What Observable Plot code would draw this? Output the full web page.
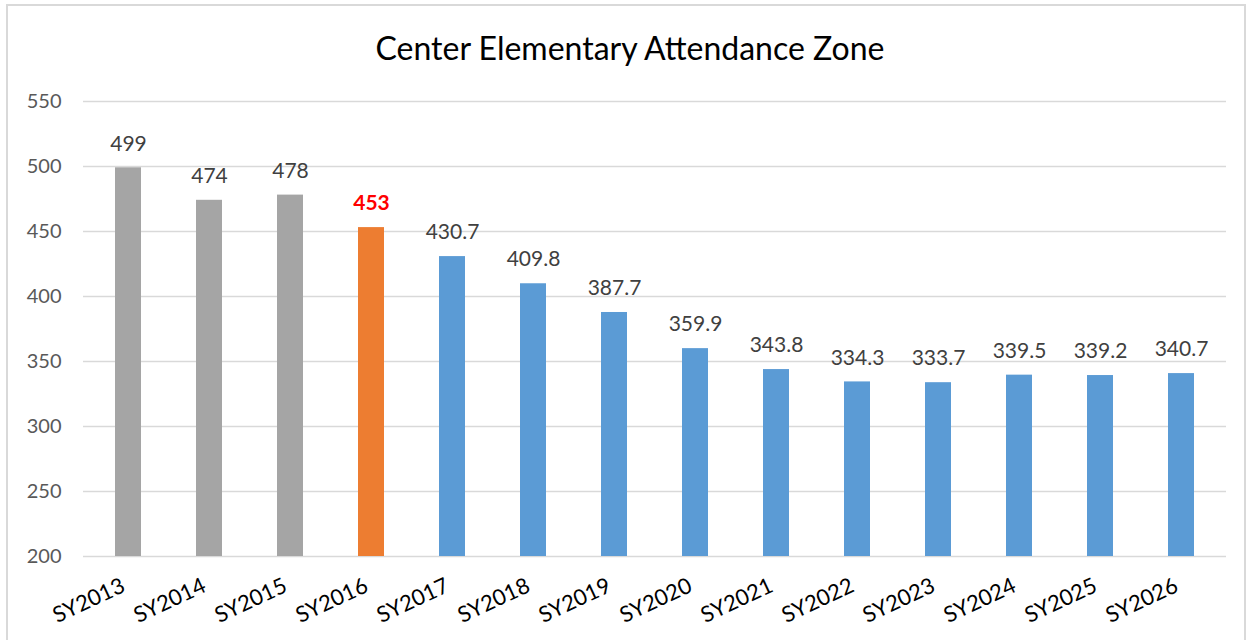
<!DOCTYPE html>
<html><head><meta charset="utf-8">
<script src="https://cdn.jsdelivr.net/npm/d3@7"></script>
<script src="https://cdn.jsdelivr.net/npm/@observablehq/plot@0.6"></script>
<style>
body{margin:0;background:#fff;font-family:Lato,"Open Sans",sans-serif;}
#wrap{position:relative;width:1252px;height:640px;overflow:hidden;}
#frame{position:absolute;left:6px;top:4px;width:1240px;height:660px;border:2px solid #d9d9d9;box-sizing:border-box;pointer-events:none;}
#title{height:80px;line-height:96px;text-align:center;font-size:32px;color:#000;padding-left:8px;}
</style></head>
<body><div id="wrap"><div id="frame"></div><div id="title">Center Elementary Attendance Zone</div><div id="chart"></div></div>
<script>
const years = ["SY2013","SY2014","SY2015","SY2016","SY2017","SY2018","SY2019","SY2020","SY2021","SY2022","SY2023","SY2024","SY2025","SY2026"];
const values = [499,474,478,453,430.7,409.8,387.7,359.9,343.8,334.3,333.7,339.5,339.2,340.7];
const kinds = ["actual","actual","actual","current","projected","projected","projected","projected","projected","projected","projected","projected","projected","projected"];
const yTicks = [200,250,300,350,400,450,500,550];

const data = years.map((y,i)=>({year:y, value:values[i], kind:kinds[i]}));
const colorOf = {actual:"#a5a5a5", current:"#ed7d31", projected:"#5b9bd5"};

const chart = Plot.plot({
  width:1252, height:560,
  marginTop:21, marginBottom:84, marginLeft:83, marginRight:26,
  style:{fontFamily:"Lato, 'Open Sans', sans-serif", fontSize:"20px", background:"transparent"},
  x:{domain:years, paddingInner:0.68, paddingOuter:0.34, label:null},
  y:{domain:[200,550], label:null},
  marks:[
    Plot.gridY(yTicks,{stroke:"#d9d9d9", strokeOpacity:1, strokeWidth:1.5}),
    Plot.barY(data,{x:"year", y1:200, y2:"value", fill:d=>colorOf[d.kind]}),
    Plot.text(data.filter(d=>d.kind!=="current"),{x:"year", y:"value", text:d=>String(d.value), dy:-24, fill:"#404040", fontSize:21}),
    Plot.text(data.filter(d=>d.kind==="current"),{x:"year", y:"value", text:d=>String(d.value), dy:-24, fill:"#ff0000", fontSize:21, fontWeight:"bold"}),
    Plot.axisY(yTicks,{tickSize:0, tickPadding:22, fontSize:20, color:"#595959", label:null}),
    Plot.axisX({tickSize:0, tickPadding:28, tickRotate:-25, dx:-5, fontSize:22, color:"#000", label:null})
  ]
});
document.getElementById("chart").appendChild(chart);
</script></body></html>
